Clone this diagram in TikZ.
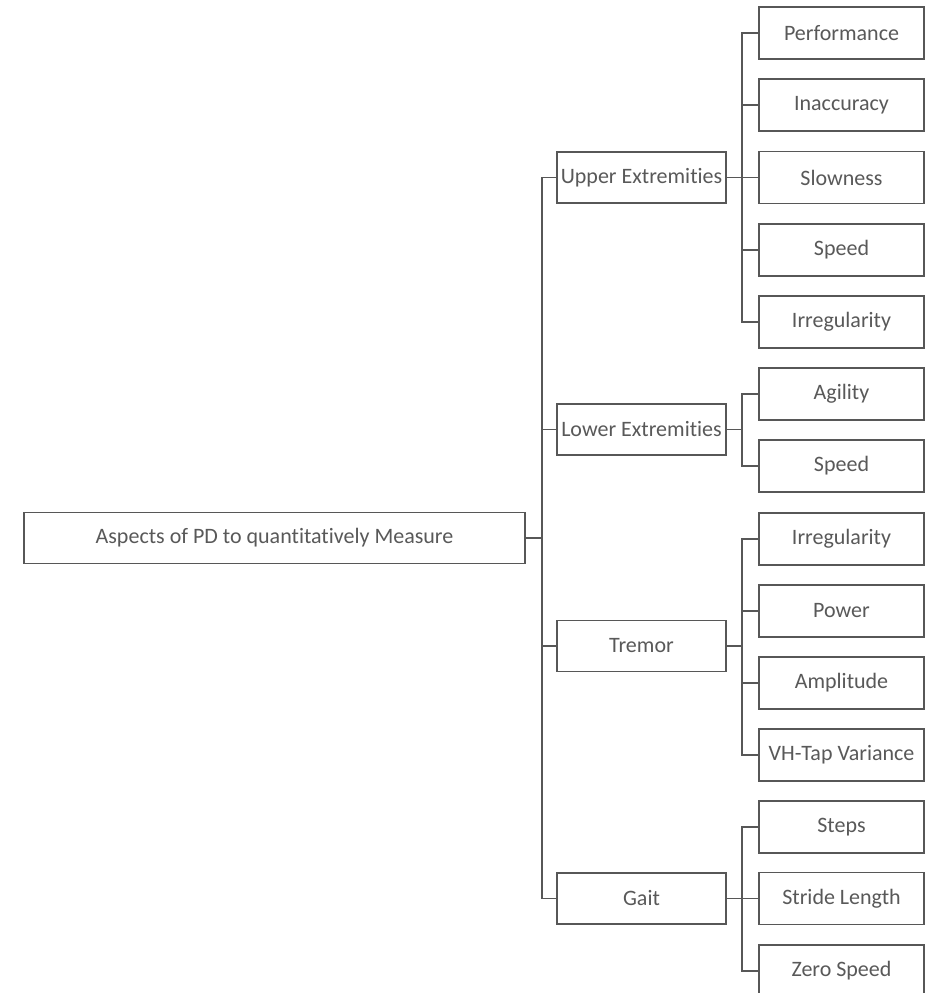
\documentclass[tikz,border=0pt]{standalone}
\usepackage{fontspec}
\setmainfont{Carlito}[Ligatures=NoCommon]
\begin{document}
\begin{tikzpicture}[x=1pt,y=-1pt,
  box/.style={draw=linegray,line width=1.8pt,fill=white,text=textgray,font=\fontsize{22}{26}\selectfont,inner sep=0pt},
  leaf/.style={box,minimum width=165pt,minimum height=52pt},
  mid/.style={box,minimum width=169pt,minimum height=51pt},
  conn/.style={draw=linegray,line width=1.7pt}]
\definecolor{linegray}{HTML}{575757}
\definecolor{textgray}{HTML}{595959}
\useasboundingbox (0,0) rectangle (925,993);
% root
\node[box,minimum width=501pt,minimum height=51pt] (root) at (274.5,538) {Aspects of PD to quantitatively Measure};
% middle
\node[mid] (up) at (641.5,177.5) {Upper Extremities};
\node[mid] (lo) at (641.5,429.5) {Lower Extremities};
\node[mid] (tr) at (641.5,646) {Tremor};
\node[mid] (ga) at (641.5,898.5) {Gait};
% leaves
\node[leaf] (l1) at (841.5,33) {Performance};
\node[leaf] (l2) at (841.5,105) {Inaccuracy};
\node[leaf] (l3) at (841.5,177.5) {Slowness};
\node[leaf] (l4) at (841.5,250) {Speed};
\node[leaf] (l5) at (841.5,322) {Irregularity};
\node[leaf] (l6) at (841.5,394) {Agility};
\node[leaf] (l7) at (841.5,466) {Speed};
\node[leaf] (l8) at (841.5,539) {Irregularity};
\node[leaf] (l9) at (841.5,611) {Power};
\node[leaf] (l10) at (841.5,683) {Amplitude};
\node[leaf] (l11) at (841.5,755) {VH-Tap Variance};
\node[leaf] (l12) at (841.5,827) {Steps};
\node[leaf] (l13) at (841.5,898.5) {Stride Length};
\node[leaf] (l14) at (841.5,971) {Zero Speed};
% trunk
\coordinate (trunk) at (542,538);
\draw[conn] (root.east) -- (root.east -| trunk);
\draw[conn] (up.west) -- (up.west -| trunk) |- (ga.west);
\draw[conn] (lo.west) -- (lo.west -| trunk);
\draw[conn] (tr.west) -- (tr.west -| trunk);
% buses
\coordinate (bus) at (742,0);
\draw[conn] (l1.west) -- (l1.west -| bus) |- (l5.west);
\foreach \n in {l2,l3,l4} \draw[conn] (\n.west) -- (\n.west -| bus);
\draw[conn] (up.east) -- (up.east -| bus);
\draw[conn] (l6.west) -- (l6.west -| bus) |- (l7.west);
\draw[conn] (lo.east) -- (lo.east -| bus);
\draw[conn] (l8.west) -- (l8.west -| bus) |- (l11.west);
\foreach \n in {l9,l10} \draw[conn] (\n.west) -- (\n.west -| bus);
\draw[conn] (tr.east) -- (tr.east -| bus);
\draw[conn] (l12.west) -- (l12.west -| bus) |- (l14.west);
\draw[conn] (l13.west) -- (l13.west -| bus);
\draw[conn] (ga.east) -- (ga.east -| bus);
\end{tikzpicture}
\end{document}
